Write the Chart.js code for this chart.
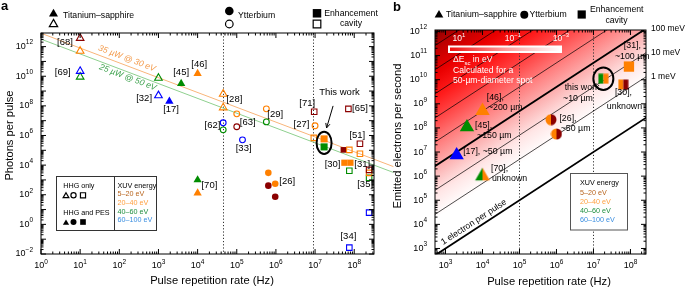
<!DOCTYPE html>
<html>
<head>
<meta charset="utf-8">
<script src="https://cdn.jsdelivr.net/npm/chart.js@4.4.1/dist/chart.umd.min.js"></script>
<style>
html, body { margin: 0; padding: 0; background: #fff; }
#wrap { position: relative; width: 685px; height: 287px; }
canvas { position: absolute; left: 0; top: 0; }
</style>
</head>
<body>
<div id="wrap">
  <canvas id="chartA" width="685" height="287"></canvas>
  <canvas id="chartB" width="685" height="287"></canvas>
</div>
<script>
const FONT = '"Liberation Sans", Arial, Helvetica, sans-serif';
const DARKRED = '#8b0000', ORANGE = '#ff8000', GREEN = '#008c00', BLUE = '#0000ff';

// categorias
const sourceTypes = ['Titanium–sapphire', 'Ytterbium', 'Enhancement cavity'];
const energyBands = ['5–20 eV', '20–40 eV', '40–60 eV', '60–100 eV'];
const energyColors = ['#b8651e', '#ffa040', '#1f8f3f', '#3a8ee0'];

// ---------- painel a : fótons por pulso ----------
const xRangeA = [1, 3.2e8];
const yRangeA = [1e-2, 8.3e12];
const xTickExpA = [0, 1, 2, 3, 4, 5, 6, 7, 8];
const yTickExpA = [-2, 0, 2, 4, 6, 8, 10, 12];
const regimeBoundsA = [4.5e4, 9e6];

const line35uW = [[1, 8e12], [1e9, 8e3]];
const line25uW = [[1, 3.2e12], [1e9, 3.2e3]];

const tiOpenDarkRed = [[10, 3.7e12]];
const tiOpenOrange = [[10, 5e11], [4.5e4, 6.3e8], [4.5e4, 7.6e7]];
const tiOpenBlue = [[10, 2.2e10], [1e3, 5e8]];
const tiOpenGreen = [[10, 9e9], [1e3, 7.5e9]];
const tiFilledBlue = [[1.9e3, 2e8]];
const tiFilledGreen = [[3.8e3, 3.2e9], [1e4, 1e3]];
const tiFilledOrange = [[1e4, 1.5e10], [1e4, 1.3e2]];

const ybOpenBlue = [[4.5e4, 7.2e6], [1.4e5, 5.1e5]];
const ybOpenGreen = [[4.5e4, 2.4e6], [5.7e5, 8.3e6]];
const ybOpenOrange = [[1e5, 2.9e7], [5.7e5, 6.3e7], [1e7, 4.5e6]];
const ybOpenDarkRed = [[1e5, 3.9e6]];
const ybFilledOrange = [[6.4e5, 3e3], [9.6e5, 5.5e2]];
const ybFilledDarkRed = [[6.4e5, 4.1e2], [9.6e5, 74]];

const ecOpenDarkRed = [[9.5e6, 4e7], [7.1e7, 6.3e7], [1.4e8, 2.8e5], [2.4e8, 4.8e3]];
const ecOpenOrange = [[9.3e6, 6.9e5], [7.5e7, 1.07e5], [1.4e8, 5.8e4], [2.4e8, 3e3]];
const ecOpenGreen = [[7.5e7, 4.2e3], [2.4e8, 1.4e3]];
const ecOpenBlue = [[2.4e8, 6.2], [7.5e7, 0.027]];
const ecFilledDarkRed = [[5.3e7, 1.07e5]];
const ecFilledOrange = [[5.6e7, 1.45e4], [8e7, 1.45e4]];
const thisWorkOrangeA = [[1.7e7, 5.9e5]];
const thisWorkGreenA = [[1.7e7, 1.7e5]];

// rótulos de referência (texto, x, y)
const refLabelsA = [
    ['[68]', 4.1, 1.8e12], ['[69]', 3.6, 1.7e10], ['[32]', 430, 3e8], ['[17]', 2.1e3, 5.4e7],
    ['[45]', 3.8e3, 1.7e10], ['[46]', 1.1e4, 6.8e10], ['[28]', 8.7e4, 2.6e8], ['[62]', 2.4e4, 4.5e6],
    ['[63]', 1.9e5, 8.3e6], ['[33]', 1.5e5, 1.26e5], ['[29]', 9.6e5, 2.5e7], ['[71]', 6.3e6, 1.4e8],
    ['[27]', 4.5e6, 5.4e6], ['[65]', 1.4e8, 6.3e7], ['[51]', 1.2e8, 1.1e6], ['[30]', 2.8e7, 1.2e4],
    ['[31]', 1.6e8, 1.2e4], ['[35]', 1.9e8, 4.7e2], ['[34]', 7.1e7, 0.15], ['[70]', 2e4, 4e2],
    ['[26]', 1.95e6, 7.6e2], ['This work', 4.2e7, 7.6e8]
];

// ---------- painel b : elétrons por segundo ----------
const xRangeB = [5.2e2, 2.63e8];
const yRangeB = [5.9e2, 1.15e12];
const xTickExpB = [3, 4, 5, 6, 7, 8];
const yTickExpB = [3, 4, 5, 6, 7, 8, 9, 10, 11, 12];
const regimeBoundsB = [1e5, 1e7];

// elétrons por pulso de cada linha de contorno
const contourLevels = [1, 50, 500, 5000, 5e4, 5e5, 5e6, 5e7, 5e8];
const thickLevels = [1, 5000];
const meVLabels = [['1 meV', 50], ['10 meV', 500], ['100 meV', 5000]];

const bTiOrange = [[1e4, 5.1e8]];
const bTiGreen = [[3.8e3, 1.07e8]];
const bTiBlue = [[2e3, 7.4e6]];
const bTiGreenOrange = [[1e4, 1.0e6]];
const bYbOrangeDarkRed = [[7.1e5, 2.2e8], [1e6, 5.6e7]];
const bThisWork = [[1.85e7, 1.1e10]];
const bEcOrange = [[9.1e7, 3.5e10]];
const bEcOrangeDarkRed = [[6.4e7, 6.3e9]];

const refLabelsB = [
    ['[46],', 1.3e4, 1.9e9, 'left'], ['~200 µm', 1.4e4, 7.3e8, 'left'],
    ['[45],', 6.3e3, 1.26e8, 'left'], ['~150 µm', 7.1e3, 5e7, 'left'],
    ['[17], ~50 µm', 3e3, 1.07e7, 'left'],
    ['[70],', 1.7e4, 2.1e6, 'left'], ['unknown', 1.8e4, 8.1e5, 'left'],
    ['[26],', 1.2e6, 2.5e8, 'left'], ['~50 µm', 1.3e6, 9.8e7, 'left'],
    ['this work', 4.9e6, 4.5e9, 'center'], ['~10 µm', 3.8e6, 1.6e9, 'center'],
    ['[31],', 6.6e7, 2.5e11, 'left'], ['~100 µm', 3.8e7, 8.7e10, 'left'],
    ['[30],', 3.8e7, 2.8e9, 'left'], ['unknown', 2.3e7, 8e8, 'left']
];

// cores do fundo (log10 elétrons por pulso -> cor)
const spaceChargeLogN = [9.4, 8.5, 7.5, 6.5, 5.5, 4.5, 3.5, 2.5, 1.5];
const spaceChargeColors = ['#8c0000', '#c00000', '#ea0000', '#ff1c1c', '#ff4c4c', '#ff8282', '#fcb4b4', '#ffe6e6', '#ffffff'];

// ---------- utilidades ----------
const pts = arr => arr.map(([x, y]) => ({ x, y }));

function markers(arr, style, color, filled, radius) {
    return {
        data: pts(arr),
        showLine: false,
        pointStyle: style,
        pointRadius: radius,
        pointBackgroundColor: filled ? color : 'rgba(0,0,0,0)',
        pointBorderColor: color,
        pointBorderWidth: filled ? 0 : 1.1,
        clip: false,
        order: 1
    };
}

function splitMarker(shape, left, right, size) {
    const c = document.createElement('canvas');
    c.width = size; c.height = size;
    const g = c.getContext('2d');
    const m = size / 2;
    g.beginPath();
    if (shape === 'circle') g.arc(m, m, m - 0.5, 0, Math.PI * 2);
    else if (shape === 'rect') g.rect(0.5, 0.5, size - 1, size - 1);
    else {
        const r = m - 0.5;
        g.moveTo(m, m - r); g.lineTo(m + 0.866 * r, m + 0.5 * r); g.lineTo(m - 0.866 * r, m + 0.5 * r); g.closePath();
    }
    g.clip();
    g.fillStyle = left; g.fillRect(0, 0, m, size);
    g.fillStyle = right; g.fillRect(m, 0, size - m, size);
    return c;
}

function shapePath(ctx, shape, x, y, r) {
    ctx.beginPath();
    if (shape === 'triangle') {
        ctx.moveTo(x, y - r); ctx.lineTo(x + 0.866 * r, y + 0.5 * r); ctx.lineTo(x - 0.866 * r, y + 0.5 * r); ctx.closePath();
    } else if (shape === 'circle') {
        ctx.arc(x, y, r, 0, Math.PI * 2);
    } else {
        const s = r * Math.SQRT1_2;
        ctx.rect(x - s, y - s, 2 * s, 2 * s);
    }
}

function symbol(ctx, shape, x, y, r, filled) {
    ctx.save();
    shapePath(ctx, shape, x, y, r);
    if (filled) { ctx.fillStyle = '#000'; ctx.fill(); }
    else { ctx.strokeStyle = '#000'; ctx.lineWidth = 1.2; ctx.stroke(); }
    ctx.restore();
}

function text(ctx, s, x, y, size, o = {}) {
    ctx.save();
    ctx.font = `${o.style || ''} ${o.weight || ''} ${size}px ${FONT}`;
    ctx.fillStyle = o.color || '#000';
    ctx.textAlign = o.align || 'center';
    ctx.textBaseline = o.baseline || 'middle';
    if (o.rotate) { ctx.translate(x, y); ctx.rotate(o.rotate); ctx.fillText(s, 0, 0); }
    else ctx.fillText(s, x, y);
    ctx.restore();
}

// "10" com expoente
function pow10(ctx, exp, x, y, align, color = '#000', big = 9, small = 6.5) {
    const e = String(exp).replace('-', '−');
    ctx.save();
    ctx.font = `${big}px ${FONT}`; const wb = ctx.measureText('10').width;
    ctx.font = `${small}px ${FONT}`; const we = ctx.measureText(e).width;
    let x0 = x;
    if (align === 'right') x0 = x - wb - we;
    else if (align === 'center') x0 = x - (wb + we) / 2;
    ctx.fillStyle = color; ctx.textAlign = 'left'; ctx.textBaseline = 'middle';
    ctx.font = `${big}px ${FONT}`; ctx.fillText('10', x0, y);
    ctx.font = `${small}px ${FONT}`; ctx.fillText(e, x0 + wb, y - 4);
    ctx.restore();
}

function drawFrame(chart) {
    const { ctx, chartArea: a, scales: { x, y } } = chart;
    ctx.save();
    ctx.strokeStyle = '#000'; ctx.lineWidth = 1;
    ctx.strokeRect(a.left, a.top, a.right - a.left, a.bottom - a.top);
    ctx.beginPath();
    for (let k = Math.floor(Math.log10(x.min)); k <= Math.ceil(Math.log10(x.max)); k++) {
        for (let m = 1; m < 10; m++) {
            const v = m * Math.pow(10, k);
            if (v < x.min * 0.999 || v > x.max * 1.001) continue;
            const p = x.getPixelForValue(v), len = m === 1 ? 5 : 2.5;
            ctx.moveTo(p, a.bottom); ctx.lineTo(p, a.bottom - len);
            ctx.moveTo(p, a.top); ctx.lineTo(p, a.top + len);
        }
    }
    for (let k = Math.floor(Math.log10(y.min)); k <= Math.ceil(Math.log10(y.max)); k++) {
        for (let m = 1; m < 10; m++) {
            const v = m * Math.pow(10, k);
            if (v < y.min * 0.999 || v > y.max * 1.001) continue;
            const p = y.getPixelForValue(v), len = m === 1 ? 5 : 2.5;
            ctx.moveTo(a.left, p); ctx.lineTo(a.left + len, p);
            ctx.moveTo(a.right, p); ctx.lineTo(a.right - len, p);
        }
    }
    ctx.stroke();
    ctx.restore();
}

function drawTickLabels(chart, xExps, yExps) {
    const { ctx, chartArea: a, scales: { x, y } } = chart;
    xExps.forEach(e => pow10(ctx, e, x.getPixelForValue(Math.pow(10, e)), a.bottom + 12, 'center'));
    yExps.forEach(e => pow10(ctx, e, a.left - 8, y.getPixelForValue(Math.pow(10, e)), 'right'));
}

function drawRegimes(chart, bounds) {
    const { ctx, chartArea: a, scales: { x } } = chart;
    ctx.save();
    ctx.strokeStyle = '#333'; ctx.lineWidth = 1; ctx.setLineDash([1.2, 2]);
    bounds.forEach(v => {
        const p = Math.round(x.getPixelForValue(v)) + 0.5;
        ctx.beginPath(); ctx.moveTo(p, a.top); ctx.lineTo(p, a.bottom); ctx.stroke();
    });
    ctx.restore();
}

// texto ao longo de um segmento [[x1,y1],[x2,y2]]
function alongLine(chart, seg, fx, offset, s, color, size, style) {
    const { ctx, scales: { x, y } } = chart;
    const x1 = x.getPixelForValue(seg[0][0]), y1 = y.getPixelForValue(seg[0][1]);
    const x2 = x.getPixelForValue(seg[1][0]), y2 = y.getPixelForValue(seg[1][1]);
    const ang = Math.atan2(y2 - y1, x2 - x1);
    const px = x.getPixelForValue(fx);
    const py = y1 + (px - x1) / (x2 - x1) * (y2 - y1);
    ctx.save();
    ctx.translate(px, py); ctx.rotate(ang);
    ctx.font = `${style || ''} ${size}px ${FONT}`;
    ctx.fillStyle = color; ctx.textAlign = 'center'; ctx.textBaseline = 'middle';
    ctx.fillText(s, 0, offset);
    ctx.restore();
}

function energyLegend(ctx, x, y, step) {
    text(ctx, 'XUV energy', x, y, 7.2, { align: 'left' });
    energyBands.forEach((b, i) => text(ctx, b, x, y + step * (i + 1), 7.2, { align: 'left', color: energyColors[i] }));
}

// ---------- painel a ----------
const decorA = {
    id: 'decorA',
    beforeDatasetsDraw(chart) { drawRegimes(chart, regimeBoundsA); },
    afterDatasetsDraw(chart) {
        const { ctx, scales: { x, y } } = chart;
        drawFrame(chart);
        drawTickLabels(chart, xTickExpA, yTickExpA);
        text(ctx, 'Pulse repetition rate (Hz)', 212, 281, 11.2);
        text(ctx, 'Photons per pulse', 10, 135.5, 11.2, { rotate: -Math.PI / 2 });
        text(ctx, 'a', 1, 10, 13, { weight: 'bold', align: 'left', baseline: 'alphabetic' });

        alongLine(chart, line35uW, 136, -6.7, '35 µW @ 30 eV', '#f39a4a', 8.5, 'italic');
        alongLine(chart, line25uW, 183, 5.2, '25 µW @ 50 eV', '#3aa04a', 8.5, 'italic');

        refLabelsA.forEach(([s, vx, vy]) => text(ctx, s, x.getPixelForValue(vx), y.getPixelForValue(vy), 9.5));

        // elipse e seta "This work"
        const cx = x.getPixelForValue(thisWorkOrangeA[0][0]);
        const cy = (y.getPixelForValue(thisWorkOrangeA[0][1]) + y.getPixelForValue(thisWorkGreenA[0][1])) / 2;
        ctx.save();
        ctx.strokeStyle = '#000'; ctx.lineWidth = 2;
        ctx.beginPath(); ctx.ellipse(cx, cy, 7.5, 11.2, 0, 0, Math.PI * 2); ctx.stroke();
        ctx.lineWidth = 1;
        const sx = cx + 9, sy = cy - 37, ex = cx + 2.5, ey = cy - 15;
        ctx.beginPath(); ctx.moveTo(sx, sy); ctx.lineTo(ex, ey); ctx.stroke();
        const ang = Math.atan2(ey - sy, ex - sx);
        ctx.beginPath();
        ctx.moveTo(ex - 5 * Math.cos(ang - 0.45), ey - 5 * Math.sin(ang - 0.45));
        ctx.lineTo(ex, ey);
        ctx.lineTo(ex - 5 * Math.cos(ang + 0.45), ey - 5 * Math.sin(ang + 0.45));
        ctx.stroke();
        ctx.restore();

        // legenda superior
        symbol(ctx, 'triangle', 53.5, 13.9, 5.2, true);
        symbol(ctx, 'triangle', 53.5, 24.2, 4.8, false);
        text(ctx, sourceTypes[0], 63, 16, 8.7, { align: 'left' });
        symbol(ctx, 'circle', 229.3, 11, 4.3, true);
        symbol(ctx, 'circle', 229.3, 24, 3.8, false);
        text(ctx, sourceTypes[1], 238, 16, 8.7, { align: 'left' });
        symbol(ctx, 'rect', 317, 13.3, 6, true);
        symbol(ctx, 'rect', 317, 24, 5.4, false);
        text(ctx, 'Enhancement', 351, 13.3, 8.7);
        text(ctx, 'cavity', 351, 24, 8.7);

        // caixa de legenda
        ctx.save();
        ctx.fillStyle = '#fff'; ctx.strokeStyle = '#333'; ctx.lineWidth = 1;
        ctx.fillRect(56.5, 176.5, 100, 54); ctx.strokeRect(56.5, 176.5, 100, 54);
        ctx.beginPath(); ctx.moveTo(114.5, 176.5); ctx.lineTo(114.5, 230.5); ctx.stroke();
        ctx.restore();
        text(ctx, 'HHG only', 63.3, 185.7, 7.2, { align: 'left' });
        symbol(ctx, 'triangle', 66, 196, 3.3, false);
        symbol(ctx, 'circle', 73.5, 195.3, 2.6, false);
        symbol(ctx, 'rect', 83, 195.3, 3.6, false);
        text(ctx, 'HHG and PES', 63.3, 213.3, 7.2, { align: 'left' });
        symbol(ctx, 'triangle', 66, 223, 3.6, true);
        symbol(ctx, 'circle', 73.5, 222, 3, true);
        symbol(ctx, 'rect', 83, 222, 4, true);
        energyLegend(ctx, 117.5, 185.7, 8.7);
    }
};

new Chart(document.getElementById('chartA'), {
    type: 'scatter',
    data: {
        datasets: [
            { data: pts(line35uW), showLine: true, borderColor: '#f9b57a', borderWidth: 1, pointRadius: 0, clip: false, order: 10 },
            { data: pts(line25uW), showLine: true, borderColor: '#8fd08f', borderWidth: 1, pointRadius: 0, clip: false, order: 10 },
            markers(tiOpenDarkRed, 'triangle', DARKRED, false, 4.4),
            markers(tiOpenOrange, 'triangle', ORANGE, false, 4.4),
            markers(tiOpenBlue, 'triangle', BLUE, false, 4.4),
            markers(tiOpenGreen, 'triangle', GREEN, false, 4.4),
            markers(tiFilledBlue, 'triangle', BLUE, true, 4.8),
            markers(tiFilledGreen, 'triangle', GREEN, true, 4.8),
            markers(tiFilledOrange, 'triangle', ORANGE, true, 4.8),
            markers(ybOpenBlue, 'circle', BLUE, false, 2.9),
            markers(ybOpenGreen, 'circle', GREEN, false, 2.9),
            markers(ybOpenOrange, 'circle', ORANGE, false, 2.9),
            markers(ybOpenDarkRed, 'circle', DARKRED, false, 2.9),
            markers(ybFilledOrange, 'circle', ORANGE, true, 3.3),
            markers(ybFilledDarkRed, 'circle', DARKRED, true, 3.3),
            markers(ecOpenDarkRed, 'rect', DARKRED, false, 3.9),
            markers(ecOpenOrange, 'rect', ORANGE, false, 3.9),
            markers(ecOpenGreen, 'rect', GREEN, false, 3.9),
            markers(ecOpenBlue, 'rect', BLUE, false, 3.9),
            markers(ecFilledDarkRed, 'rect', DARKRED, true, 4),
            markers(ecFilledOrange, 'rect', ORANGE, true, 4.4),
            markers(thisWorkOrangeA, 'rect', ORANGE, true, 5),
            markers(thisWorkGreenA, 'rect', GREEN, true, 5)
        ]
    },
    options: {
        responsive: false,
        animation: false,
        devicePixelRatio: 1,
        events: [],
        layout: { padding: { left: 41, top: 33, right: 311, bottom: 33 } },
        scales: {
            x: { type: 'logarithmic', min: xRangeA[0], max: xRangeA[1], display: false },
            y: { type: 'logarithmic', min: yRangeA[0], max: yRangeA[1], display: false }
        },
        plugins: { legend: { display: false }, tooltip: { enabled: false } }
    },
    plugins: [decorA]
});

// ---------- painel b ----------
const decorB = {
    id: 'decorB',
    beforeDatasetsDraw(chart) {
        const { ctx, chartArea: a, scales: { x, y } } = chart;
        // gradiente perpendicular às linhas de contorno
        const dx = x.getPixelForValue(10) - x.getPixelForValue(1);
        const dy = y.getPixelForValue(1) - y.getPixelForValue(10);
        const norm = Math.hypot(dx, dy);
        const nx = dy / norm, ny = dx / norm, perDecade = dx * dy / norm;
        const L0 = spaceChargeLogN[0], L1 = spaceChargeLogN[spaceChargeLogN.length - 1];
        const f0 = 1e3;
        const p0x = x.getPixelForValue(f0), p0y = y.getPixelForValue(f0 * Math.pow(10, L0));
        const dist = (L0 - L1) * perDecade;
        const g = ctx.createLinearGradient(p0x, p0y, p0x + nx * dist, p0y + ny * dist);
        spaceChargeLogN.forEach((L, i) => g.addColorStop((L0 - L) / (L0 - L1), spaceChargeColors[i]));
        ctx.save();
        ctx.fillStyle = g;
        ctx.fillRect(a.left, a.top, a.right - a.left, a.bottom - a.top);
        ctx.restore();
        drawRegimes(chart, regimeBoundsB);
    },
    afterDatasetsDraw(chart) {
        const { ctx, chartArea: a, scales: { x, y } } = chart;
        drawFrame(chart);
        drawTickLabels(chart, xTickExpB, yTickExpB);
        text(ctx, 'Pulse repetition rate (Hz)', 549, 281.5, 11.2);
        text(ctx, 'Emitted electrons per second', 398, 136, 11.2, { rotate: -Math.PI / 2 });
        text(ctx, 'b', 393, 10.5, 13, { weight: 'bold', align: 'left', baseline: 'alphabetic' });

        meVLabels.forEach(([s, n]) => text(ctx, s, a.right + 5, y.getPixelForValue(n * x.max), 8.5, { align: 'left' }));

        alongLine(chart, [[100, 100], [1e9, 1e9]], 7.3e3, -6.5, '1 electron per pulse', '#000', 8.7);

        refLabelsB.forEach(([s, vx, vy, al]) => text(ctx, s, x.getPixelForValue(vx), y.getPixelForValue(vy), 8.8, { align: al }));

        // círculo "this work"
        ctx.save();
        ctx.strokeStyle = '#000'; ctx.lineWidth = 2;
        ctx.beginPath();
        ctx.ellipse(x.getPixelForValue(bThisWork[0][0]), y.getPixelForValue(bThisWork[0][1]), 10, 11.3, 0, 0, Math.PI * 2);
        ctx.stroke();
        ctx.restore();

        // barra de escala ΔE
        ctx.save();
        ctx.fillStyle = '#fff';
        ctx.fillRect(448, 45.5, 114, 7.5);
        const bar = ctx.createLinearGradient(450, 0, 560, 0);
        bar.addColorStop(0, '#f01010'); bar.addColorStop(0.5, '#ff9a9a'); bar.addColorStop(1, '#ffffff');
        ctx.fillStyle = bar;
        ctx.fillRect(450, 47.5, 110, 3.5);
        ctx.restore();
        pow10(ctx, 1, 459, 39, 'center', '#fff', 8.5, 6);
        pow10(ctx, -1, 513, 39, 'center', '#fff', 8.5, 6);
        pow10(ctx, -3, 561, 39, 'center', '#fff', 8.5, 6);

        ctx.save();
        ctx.fillStyle = '#fff'; ctx.textBaseline = 'middle'; ctx.textAlign = 'left';
        ctx.font = `8.6px ${FONT}`;
        ctx.fillText('ΔE', 453, 60);
        const w = ctx.measureText('ΔE').width;
        ctx.font = `6px ${FONT}`;
        ctx.fillText('sc', 453 + w, 63);
        const w2 = ctx.measureText('sc').width;
        ctx.font = `8.6px ${FONT}`;
        ctx.fillText(' in eV', 453 + w + w2, 60);
        ctx.fillText('Calculated for a', 453, 70.5);
        ctx.fillText('50-µm-diameter spot', 453, 81);
        ctx.restore();

        // legenda superior
        symbol(ctx, 'triangle', 439, 14.9, 5, true);
        text(ctx, sourceTypes[0], 446, 15, 8.7, { align: 'left' });
        symbol(ctx, 'circle', 524.3, 14.7, 4, true);
        text(ctx, sourceTypes[1], 529.5, 15, 8.7, { align: 'left' });
        symbol(ctx, 'rect', 581.7, 14.5, 5.8, true);
        text(ctx, 'Enhancement', 616.7, 9.5, 8.7);
        text(ctx, 'cavity', 616.5, 20.3, 8.7);

        // caixa de legenda
        ctx.save();
        ctx.fillStyle = '#fff'; ctx.strokeStyle = '#555'; ctx.lineWidth = 1;
        ctx.fillRect(570.5, 173.5, 57, 56.5); ctx.strokeRect(570.5, 173.5, 57, 56.5);
        ctx.restore();
        energyLegend(ctx, 580, 183.3, 9.3);
    }
};

const contourSets = contourLevels.map(n => ({
    data: [{ x: 100, y: n * 100 }, { x: 1e9, y: n * 1e9 }],
    showLine: true,
    borderColor: '#000',
    borderWidth: thickLevels.includes(n) ? 1.8 : 0.7,
    pointRadius: 0,
    clip: 0,
    order: 10
}));

new Chart(document.getElementById('chartB'), {
    type: 'scatter',
    data: {
        datasets: [
            ...contourSets,
            markers(bTiOrange, 'triangle', ORANGE, true, 8.3),
            markers(bTiGreen, 'triangle', GREEN, true, 8.3),
            markers(bTiBlue, 'triangle', BLUE, true, 8.3),
            markers(bTiGreenOrange, splitMarker('triangle', GREEN, ORANGE, 18), GREEN, true, 8),
            markers(bYbOrangeDarkRed, splitMarker('circle', ORANGE, DARKRED, 12), ORANGE, true, 6),
            markers(bThisWork, splitMarker('rect', GREEN, ORANGE, 11), GREEN, true, 6),
            markers(bEcOrange, 'rect', ORANGE, true, 7.3),
            markers(bEcOrangeDarkRed, splitMarker('rect', ORANGE, DARKRED, 11), ORANGE, true, 6)
        ]
    },
    options: {
        responsive: false,
        animation: false,
        devicePixelRatio: 1,
        events: [],
        layout: { padding: { left: 435, top: 30, right: 39, bottom: 33 } },
        scales: {
            x: { type: 'logarithmic', min: xRangeB[0], max: xRangeB[1], display: false },
            y: { type: 'logarithmic', min: yRangeB[0], max: yRangeB[1], display: false }
        },
        plugins: { legend: { display: false }, tooltip: { enabled: false } }
    },
    plugins: [decorB]
});
</script>
</body>
</html>
